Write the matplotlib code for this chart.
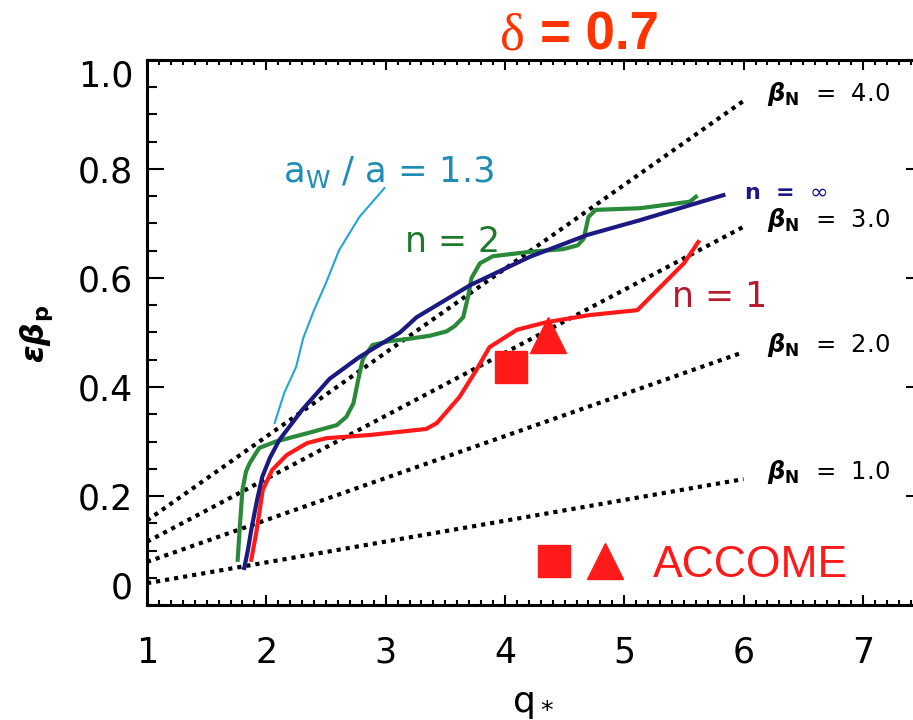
import matplotlib
matplotlib.use("Agg")
import matplotlib.pyplot as plt
from matplotlib.ticker import MultipleLocator
from matplotlib.legend_handler import HandlerTuple

# n = 1 (red)
q_n1 = [1.874, 1.92, 1.97, 2.05, 2.17, 2.34, 2.50, 2.87, 3.34, 3.43, 3.62, 3.76,
        3.87, 4.10, 4.35, 4.71, 5.11, 5.50, 5.62]
eb_n1 = [0.083, 0.138, 0.211, 0.248, 0.275, 0.297, 0.306, 0.312, 0.323, 0.334, 0.382,
         0.431, 0.473, 0.505, 0.519, 0.532, 0.541, 0.627, 0.666]

# n = 2 (green)
q_n2 = [1.76, 1.78, 1.80, 1.83, 1.86, 1.94, 2.08, 2.34, 2.59, 2.67, 2.73, 2.77, 2.81,
        2.89, 3.03, 3.18, 3.37, 3.51, 3.58, 3.65, 3.69, 3.72, 3.79, 3.90, 4.21, 4.49,
        4.61, 4.66, 4.70, 4.76, 5.13, 5.55, 5.60]
eb_n2 = [0.083, 0.15, 0.211, 0.245, 0.26, 0.288, 0.30, 0.315, 0.33, 0.345, 0.37, 0.413,
         0.452, 0.477, 0.484, 0.488, 0.494, 0.502, 0.512, 0.528, 0.565, 0.60, 0.627,
         0.64, 0.648, 0.653, 0.66, 0.672, 0.712, 0.725, 0.728, 0.74, 0.749]

# n = infinity (navy)
q_ninf = [1.815, 1.845, 1.874, 1.92, 1.966, 2.03, 2.11, 2.30, 2.53, 2.78, 3.12, 3.26,
          3.71, 4.21, 4.69, 5.13, 5.83]
eb_ninf = [0.068, 0.10, 0.138, 0.19, 0.235, 0.27, 0.303, 0.358, 0.415, 0.455, 0.50,
           0.528, 0.587, 0.639, 0.679, 0.706, 0.752]

# a_W / a = 1.3 (cyan)
q_wall = [2.07, 2.15, 2.25, 2.31, 2.40, 2.50, 2.61, 2.78, 2.99]
eb_wall = [0.334, 0.389, 0.437, 0.49, 0.541, 0.591, 0.651, 0.712, 0.765]

# constant beta_N lines
beta_n = [1.0, 2.0, 3.0, 4.0]
beta_q = [1.0, 6.0]
beta_start = [0.04, 0.079, 0.116, 0.155]
beta_end = [0.231, 0.464, 0.694, 0.925]

# ACCOME points (square, triangle)
accome_q = [4.05, 4.36]
accome_eb = [0.437, 0.495]

RED = '#ff1a1a'
GREEN = '#2a8a3a'
NAVY = '#1c1a80'
CYAN = '#22a6d2'

fig = plt.figure(figsize=(9.13, 7.2), dpi=100)
ax = fig.add_axes([0.161, 0.1597, 0.8495, 0.757])

for b, y0, y1 in zip(beta_n, beta_start, beta_end):
    ax.plot(beta_q, [y0, y1], color='k', lw=3, ls=(0, (1, 1.2)))
    ax.text(6.2, y1 + 0.013, r'$\boldsymbol{\beta}_{\mathbf{N}}$  =  %.1f' % b,
            va='center', fontsize=17.5)

ax.plot(q_wall, eb_wall, color=CYAN, lw=1.5, solid_joinstyle='round')
ax.plot(q_n2, eb_n2, color=GREEN, lw=3, solid_joinstyle='round')
ax.plot(q_n1, eb_n1, color=RED, lw=3, solid_joinstyle='round')
ax.plot(q_ninf, eb_ninf, color=NAVY, lw=3, solid_joinstyle='round')

h_sq, = ax.plot(accome_q[0], accome_eb[0], 's', color=RED, ms=23, ls='none')
h_tri, = ax.plot(accome_q[1], accome_eb[1], '^', color=RED, ms=26, ls='none')

ax.text(2.14, 0.776, r'a$_\mathrm{W}$ / a = 1.3', color='#1f8db3', fontsize=25.5)
ax.text(3.16, 0.648, 'n = 2', color='#1c7a2c', fontsize=25)
ax.text(5.40, 0.547, 'n = 1', color='#b8182e', fontsize=25)
ax.text(6.0, 0.756, r'n  =  $\infty$', color=NAVY, fontsize=16, va='center',
        weight='bold')

ax.legend([(h_sq, h_tri)], ['ACCOME'],
          handler_map={tuple: HandlerTuple(ndivide=None, pad=0.3)},
          loc='center left', bbox_to_anchor=(0.5, 0.0734), frameon=False,
          borderpad=0, borderaxespad=0, handlelength=2.0, handletextpad=0.65,
          prop={'family': 'Liberation Sans', 'size': 32}, labelcolor=RED)

ax.set_xlim(1, 7.5)
ax.set_ylim(0, 1.0)
ax.set_xticks([1, 2, 3, 4, 5, 6, 7])
ax.set_yticks([0, 0.2, 0.4, 0.6, 0.8, 1.0])
ax.set_yticklabels(['0', '0.2', '0.4', '0.6', '0.8', '1.0'])
ax.xaxis.set_minor_locator(MultipleLocator(0.1))
ax.yaxis.set_minor_locator(MultipleLocator(0.05))
ax.tick_params(which='both', direction='in', top=True, right=True, width=1.5,
               labelsize=25)
ax.tick_params(axis='x', which='major', length=7, pad=22)
ax.tick_params(axis='x', which='minor', length=3.5)
ax.tick_params(axis='y', which='major', length=12, pad=10)
ax.tick_params(axis='y', which='minor', length=7)
for s in ax.spines.values():
    s.set_linewidth(2.2)

yt = ax.yaxis.get_major_ticks()
yt[0].label1.set_va('bottom')
yt[-1].label1.set_va('top')

fig.text(500 / 913, 1 - 50 / 720, 'δ', family='Liberation Serif', fontsize=38,
         color='#ff3300', va='baseline')
fig.text(540 / 913, 1 - 50 / 720, '= 0.7', family='Liberation Sans', weight='bold',
         fontsize=38, color='#ff3300', va='baseline')
fig.text(37 / 913, 1 - 334 / 720, r'$\boldsymbol{\epsilon\beta}_{\mathbf{p}}$',
         rotation=90, fontsize=23, ha='center', va='center')
fig.text(533 / 913, 8 / 720, r'q$_*$', fontsize=26, ha='center', va='baseline')

fig.savefig('out.png', dpi=100)
